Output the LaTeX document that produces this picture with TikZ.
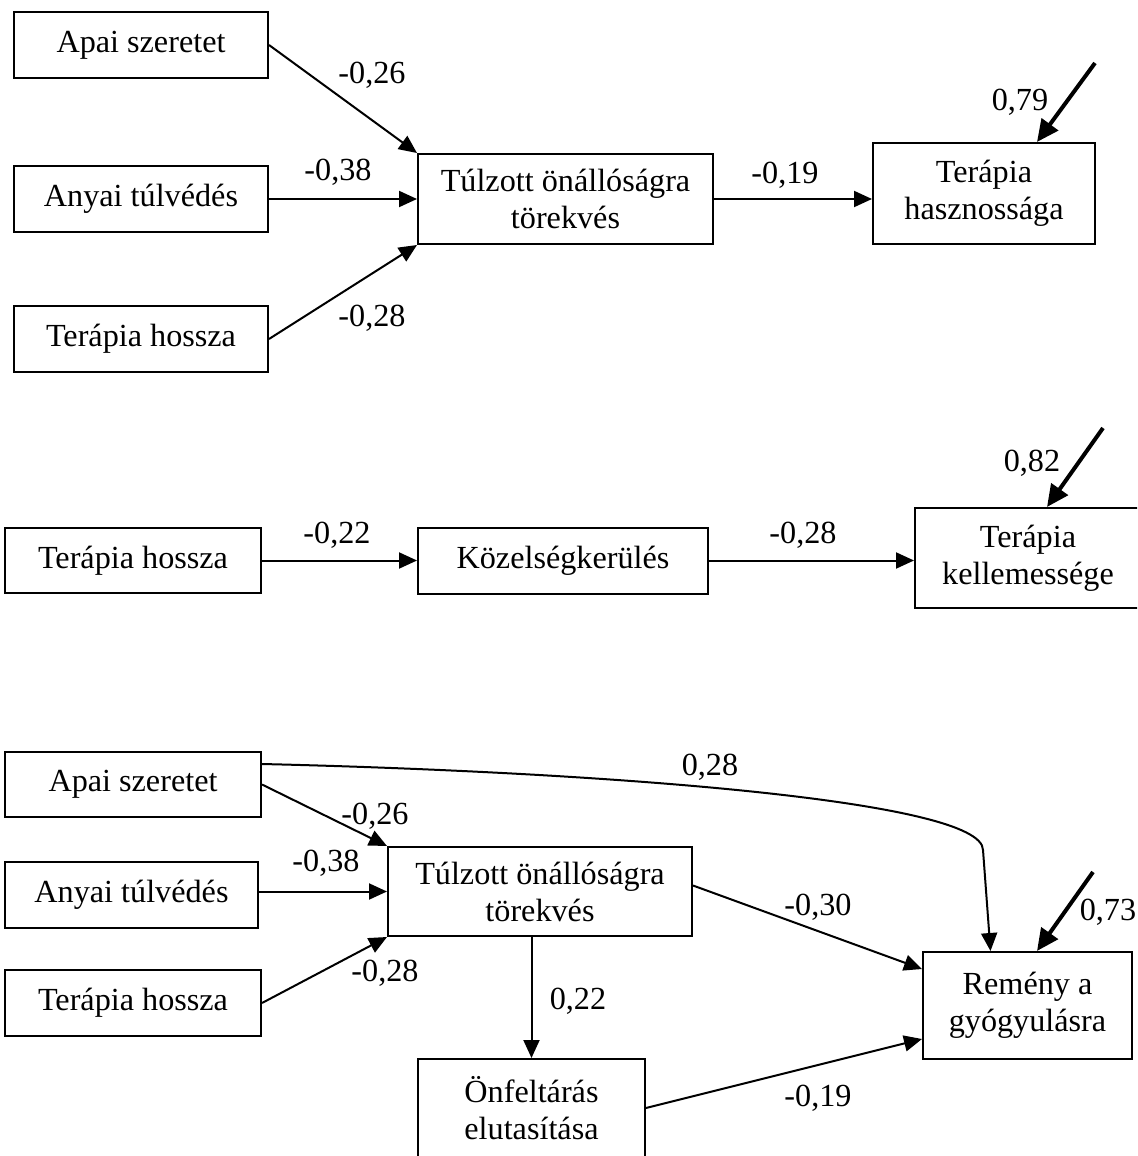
\documentclass[tikz,border=0pt]{standalone}
\usepackage{fontspec}
\setmainfont{Liberation Serif}
\usetikzlibrary{arrows.meta,calc}
\begin{document}
\begin{tikzpicture}[x=0.5pt,y=-0.5pt,
  box/.style={draw, line width=1pt, inner sep=0pt, align=center,
    font=\fontsize{16.1}{18.5}\selectfont},
  lbl/.style={inner sep=0pt, font=\fontsize{16.1}{18.5}\selectfont},
  path/.style={line width=1pt, -{Triangle[length=9pt,width=8pt]}},
  resid/.style={line width=2pt, -{Triangle[length=11pt,width=10pt]}}]
\useasboundingbox (0,0) rectangle (1137,1156);
\clip (0,0) rectangle (1137,1156);

% ---------- model 1 ----------
\node[box, minimum width=127pt, minimum height=33pt] (a1) at (141,45) {Apai szeretet};
\node[box, minimum width=127pt, minimum height=33pt] (b1) at (141,199) {Anyai túlvédés};
\node[box, minimum width=127pt, minimum height=33pt] (c1) at (141,339) {Terápia hossza};
\node[box, minimum width=147.5pt, minimum height=45pt] (t1) at (565.5,199) {Túlzott önállóságra\\törekvés};
\node[box, minimum width=111pt, minimum height=50.5pt] (h1) at (984,193.5) {Terápia\\hasznossága};
\coordinate (e1) at (1095,63);

\draw[path] (a1.east) -- (t1.north west);
\draw[path] (b1.east) -- (t1.west);
\draw[path] (c1.east) -- (t1.south west);
\draw[path] (t1.east) -- (t1.east -| h1.west);
\draw[resid] (e1) -- ($(h1.north)+(53,0)$);

\node[lbl] (l1a) at (372,75) {-0,26};
\node[lbl] (l1b) at (338,172) {-0,38};
\node[lbl] (l1c) at (372,318) {-0,28};
\node[lbl] (l1d) at (785,175) {-0,19};
\node[lbl] (l1e) at (1020,102) {0,79};

% ---------- model 2 ----------
\node[box, minimum width=128pt, minimum height=32.5pt] (c2) at (133,560.5) {Terápia hossza};
\node[box, minimum width=145pt, minimum height=33pt] (k2) at (563,560.5) {Közelségkerülés};
\node[box, minimum width=113pt, minimum height=50pt] (h2) at (1028,558) {Terápia\\kellemessége};
\coordinate (e2) at (1103,428);

\draw[path] (c2.east) -- (k2.west);
\draw[path] (k2.east) -- (k2.east -| h2.west);
\draw[resid] (e2) -- ($(h2.north)+(19,0)$);

\node[lbl] (l2a) at (337,535) {-0,22};
\node[lbl] (l2b) at (803,535) {-0,28};
\node[lbl] (l2c) at (1032,463) {0,82};

% ---------- model 3 ----------
\node[box, minimum width=128pt, minimum height=32.5pt] (a3) at (133,784.5) {Apai szeretet};
\node[box, minimum width=126.5pt, minimum height=33pt] (b3) at (131.5,895) {Anyai túlvédés};
\node[box, minimum width=128pt, minimum height=33pt] (c3) at (133,1003) {Terápia hossza};
\node[box, minimum width=152pt, minimum height=44.5pt] (t3) at (540,891.5) {Túlzott önállóságra\\törekvés};
\node[box, minimum width=113.5pt, minimum height=49pt] (o3) at (531.5,1108) {Önfeltárás\\elutasítása};
\node[box, minimum width=104.5pt, minimum height=53.5pt] (r3) at (1027.5,1005.5) {Remény a\\gyógyulásra};
\coordinate (e3) at (1093,872);
\coordinate (bend3) at (983,850);

\draw[path] ($(a3.north east)+(0,13)$) .. controls (600,772) and (983,800) .. (bend3)
  -- ($(r3.north)+(-37,0)$);
\draw[path] (a3.east) -- (t3.north west);
\draw[path] (t3.west -| b3.east) -- (t3.west);
\draw[path] (c3.east) -- (t3.south west);
\draw[path] ($(t3.east)+(0,-6)$) -- ($(r3.north west)+(0,18)$);
\draw[path] (o3.north |- t3.south) -- (o3.north);
\draw[path] (o3.east) -- ($(r3.south west)+(0,-21)$);
\draw[resid] (e3) -- ($(r3.north)+(9.5,0)$);

\node[lbl] (l3a) at (710,767) {0,28};
\node[lbl] (l3b) at (375,816) {-0,26};
\node[lbl] (l3c) at (326,863) {-0,38};
\node[lbl] (l3d) at (385,973) {-0,28};
\node[lbl] (l3e) at (818,907) {-0,30};
\node[lbl] (l3f) at (578,1001) {0,22};
\node[lbl] (l3g) at (818,1098) {-0,19};
\node[lbl] (l3h) at (1108,912) {0,73};
\end{tikzpicture}
\end{document}
